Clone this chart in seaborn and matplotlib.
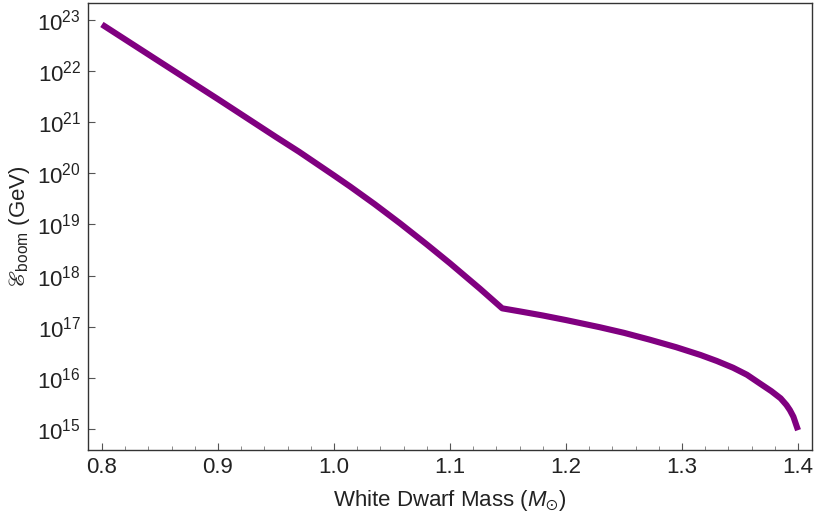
import numpy as np
import pandas as pd
import matplotlib
matplotlib.use("Agg")
import matplotlib.pyplot as plt
import seaborn as sns

# values (white dwarf mass in solar masses, energy in GeV)
mass = [0.80, 0.85, 0.90, 0.95, 0.97, 1.00, 1.014, 1.035, 1.057, 1.08, 1.10,
        1.126, 1.145, 1.16, 1.18, 1.20, 1.229, 1.25, 1.272, 1.295, 1.316,
        1.33, 1.344, 1.356, 1.367, 1.377, 1.385, 1.39, 1.393, 1.396, 1.399, 1.40]
energy = [8.13e22, 1.51e22, 2.82e21, 5.13e20, 2.63e20, 9.1e19, 5.5e19, 2.5e19,
          1.05e19, 4.07e18, 1.74e18, 5.5e17, 2.29e17, 2.0e17, 1.66e17, 1.35e17,
          9.8e16, 7.6e16, 5.6e16, 3.98e16, 2.8e16, 2.14e16, 1.58e16, 1.15e16,
          7.8e15, 5.5e15, 3.98e15, 2.95e15, 2.34e15, 1.74e15, 1.10e15, 9.5e14]
x_ticks = [0.8, 0.9, 1.0, 1.1, 1.2, 1.3, 1.4]

df = pd.DataFrame({"mass": mass, "energy": energy})

sns.set_theme(style="ticks")
plt.rcParams["font.family"] = ["Liberation Sans", "DejaVu Sans"]
plt.rcParams["mathtext.fontset"] = "custom"
plt.rcParams["mathtext.rm"] = "Liberation Sans"
plt.rcParams["mathtext.it"] = "Liberation Sans:italic"
plt.rcParams["mathtext.fallback"] = "stix"

fig = plt.figure(figsize=(8.14, 5.16), dpi=100)
ax = fig.add_axes([0.1081, 0.1279, 0.8894, 0.8663])

sns.lineplot(data=df, x="mass", y="energy", ax=ax, color="#800080",
             linewidth=4.4, sort=True)
ax.lines[0].set_solid_capstyle("butt")
ax.lines[0].set_solid_joinstyle("round")
ax.set_yscale("log")
ax.set_xlim(0.788, 1.412)
ax.set_ylim(10**14.59, 10**23.33)
ax.set_yticks([10.0**k for k in range(15, 24)])
ax.yaxis.set_minor_locator(matplotlib.ticker.NullLocator())
ax.set_xticks(x_ticks)
ax.set_xticklabels([f"{t:.1f}" for t in x_ticks])
ax.xaxis.set_minor_locator(matplotlib.ticker.MultipleLocator(0.02))

for s in ax.spines.values():
    s.set_visible(True)
    s.set_color("#333333")
    s.set_linewidth(1.0)

ax.tick_params(axis="both", which="major", direction="in", length=5,
               width=0.8, color="#555555", labelsize=16, labelcolor="#222222",
               pad=5)
ax.tick_params(axis="x", which="minor", direction="in", length=3,
               width=0.6, color="#777777")

ax.set_xlabel(r"White Dwarf Mass ($M_{\odot}$)", fontsize=16, color="#222222",
              labelpad=7)
ax.set_ylabel("$ℰ_{\\rm boom}$ (GeV)", fontsize=16, color="#222222",
              labelpad=4)

fig.savefig("out.png", dpi=100)
